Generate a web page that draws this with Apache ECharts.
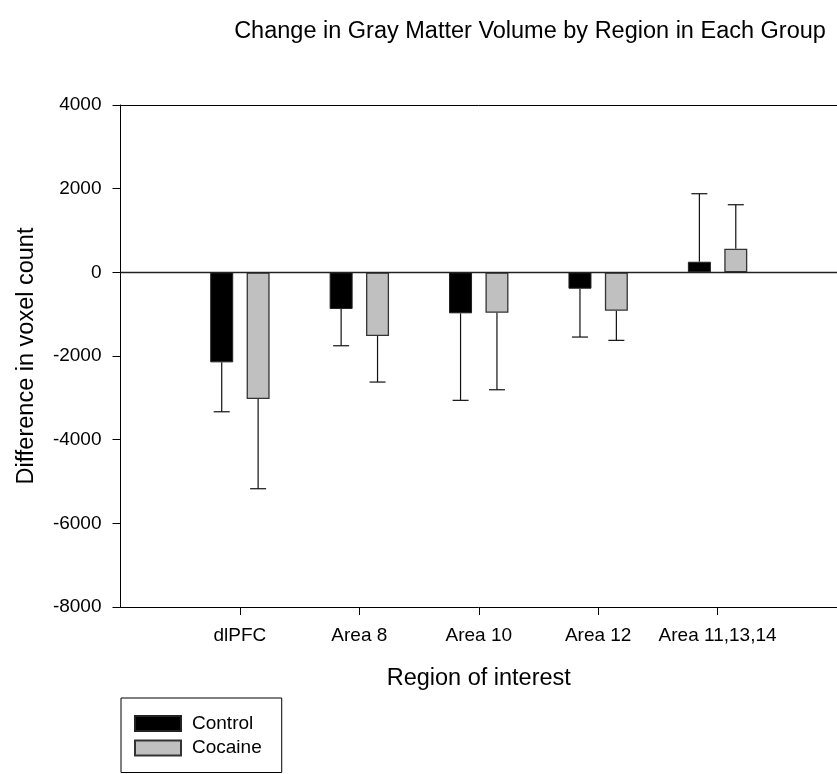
<!DOCTYPE html>
<html>
<head>
<meta charset="utf-8">
<script src="https://cdn.jsdelivr.net/npm/echarts@6/dist/echarts.min.js"></script>
<style>
html,body{margin:0;padding:0;background:#fff;}
#chart{width:837px;height:774px;}
</style>
</head>
<body>
<div id="chart"></div>
<script>
var categories = ['', 'dlPFC', 'Area 8', 'Area 10', 'Area 12', 'Area 11,13,14', ''];
var controlMean = [null, -2152, -877, -980, -392, 253, null];
var controlErr  = [null, 1181, 878, 2080, 1155, 1626, null];
var cocaineMean = [null, -3029, -1523, -966, -918, 564, null];
var cocaineErr  = [null, 2144, 1100, 1841, 708, 1052, null];
var yTicks = [-8000, -6000, -4000, -2000, 0, 2000, 4000];

var FONT = '"Liberation Sans", Arial, Helvetica, sans-serif';
var chart = echarts.init(document.getElementById('chart'), null, {renderer: 'canvas'});

function errData(means, errs) {
  var out = [];
  for (var i = 0; i < means.length; i++) {
    if (means[i] !== null) out.push([i, means[i], errs[i]]);
  }
  return out;
}

function errRender(offset) {
  return function (params, api) {
    var i = api.value(0), m = api.value(1), e = api.value(2);
    var end = m < 0 ? m - e : m + e;
    var p0 = api.coord([i, m]);
    var p1 = api.coord([i, end]);
    var x = p0[0] + offset;
    var style = {stroke: '#111', lineWidth: 1.2};
    return {
      type: 'group',
      children: [
        {type: 'line', shape: {x1: x, y1: p0[1], x2: x, y2: p1[1]}, style: style},
        {type: 'line', shape: {x1: x - 8, y1: p1[1], x2: x + 8, y2: p1[1]}, style: style}
      ]
    };
  };
}

var BAR_W = 23, GAP = 13.4;
var off = (BAR_W + GAP) / 2;

chart.setOption({
  animation: false,
  backgroundColor: '#fff',
  title: {
    text: 'Change in Gray Matter Volume by Region in Each Group',
    left: 530, textAlign: 'center', top: 20, padding: 0,
    textStyle: {fontFamily: FONT, fontSize: 23.5, fontWeight: 'normal', color: '#000'}
  },
  legend: {
    orient: 'vertical', left: 121, top: 698,
    padding: [16, 20, 15, 13],
    itemWidth: 46, itemHeight: 15, itemGap: 5.5,
    borderColor: '#000', borderWidth: 1,
    icon: 'rect',
    textStyle: {fontFamily: FONT, fontSize: 19, color: '#000', lineHeight: 19, padding: [0, 0, 0, 6]},
    data: ['Control', 'Cocaine']
  },
  grid: {
    left: 120.5, right: -2, top: 105, bottom: 167
  },
  xAxis: [
    {
      type: 'category', data: categories, boundaryGap: false, position: 'bottom',
      name: 'Region of interest', nameLocation: 'middle', nameGap: 60,
      nameTextStyle: {fontFamily: FONT, fontSize: 23.5, color: '#000'},
      axisLine: {onZero: false, lineStyle: {color: '#000', width: 1}},
      axisTick: {show: true, length: 8, lineStyle: {color: '#000'},
        interval: function (idx, val) { return val !== ''; }},
      axisLabel: {fontFamily: FONT, fontSize: 19, color: '#000', margin: 19,
        interval: function (idx, val) { return val !== ''; }},
      splitLine: {show: false}
    },
    {
      type: 'category', data: categories, boundaryGap: false, position: 'top',
      axisLine: {show: true, onZero: false, lineStyle: {color: '#000', width: 1}},
      axisTick: {show: false}, axisLabel: {show: false}, splitLine: {show: false}
    }
  ],
  yAxis: {
    type: 'value', min: yTicks[0], max: yTicks[yTicks.length - 1], interval: 2000,
    name: 'Difference in voxel count', nameLocation: 'middle', nameGap: 82, nameRotate: 90,
    nameTextStyle: {fontFamily: FONT, fontSize: 23.5, color: '#000'},
    axisLine: {show: true, lineStyle: {color: '#000', width: 1}},
    axisTick: {show: true, length: 8, lineStyle: {color: '#000'}},
    axisLabel: {fontFamily: FONT, fontSize: 19, color: '#000', margin: 19,
      formatter: function (v) { return String(v); }},
    splitLine: {show: false}
  },
  series: [
    {
      name: 'Control', type: 'bar', data: controlMean,
      barWidth: BAR_W, barGap: (GAP / BAR_W * 100).toFixed(1) + '%',
      itemStyle: {color: '#000', borderColor: '#222', borderWidth: 1},
      markLine: {
        silent: true, symbol: 'none', label: {show: false},
        lineStyle: {color: '#222', width: 1.3, type: 'solid'},
        data: [{yAxis: 0}]
      },
      z: 3
    },
    {
      name: 'Cocaine', type: 'bar', data: cocaineMean,
      barWidth: BAR_W,
      itemStyle: {color: '#c0c0c0', borderColor: '#333', borderWidth: 1.3},
      z: 3
    },
    {
      type: 'custom', name: 'ctlErr', data: errData(controlMean, controlErr),
      renderItem: errRender(-off), z: 2, silent: true
    },
    {
      type: 'custom', name: 'cocErr', data: errData(cocaineMean, cocaineErr),
      renderItem: errRender(off), z: 2, silent: true
    }
  ]
});
</script>
</body>
</html>
